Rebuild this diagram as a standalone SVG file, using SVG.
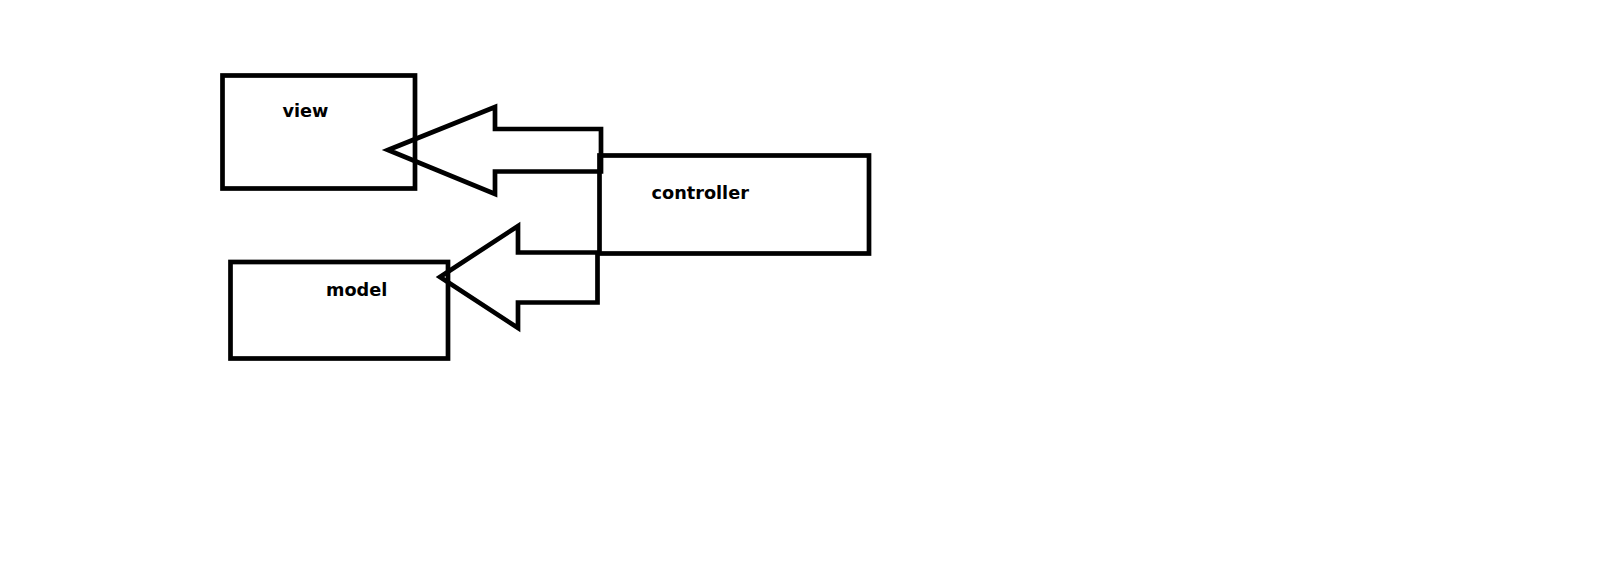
<svg xmlns="http://www.w3.org/2000/svg" width="1614" height="564" viewBox="0 0 1614 564">
<style>
.box{fill:none;stroke:#000;stroke-width:4.7}
.arr{fill:none;stroke:#000;stroke-width:4.7;stroke-linejoin:miter}
.lbl{font-family:"DejaVu Sans",sans-serif;font-weight:bold;font-size:17.7px;fill:#000}
</style>
<rect width="1614" height="564" fill="#fff"/>
<g id="view">
<rect class="box" x="222.5" y="75.5" width="192.5" height="113"/>
<text class="lbl" x="282.5" y="117.3">view</text>
</g>
<g id="controller">
<rect class="box" x="599.5" y="155.5" width="269.5" height="98"/>
<text class="lbl" x="651.5" y="199">controller</text>
</g>
<g id="model">
<rect class="box" x="230.5" y="262" width="217.5" height="96.5"/>
<text class="lbl" x="326" y="295.7">model</text>
</g>
<g id="connectors">
<polygon class="arr" points="388,150 495,107 495,129 601,129 601,171.5 495,171.5 495,194"/>
<polygon class="arr" points="440,277 518,226 518,252.5 597.5,252.5 597.5,302.5 518,302.5 518,328"/>
</g>
</svg>
